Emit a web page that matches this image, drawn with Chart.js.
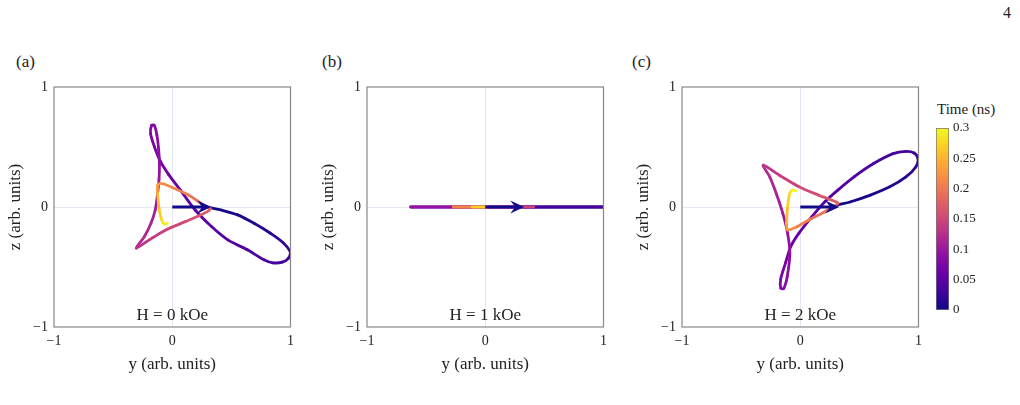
<!DOCTYPE html>
<html>
<head>
<meta charset="utf-8">
<script src="https://cdn.jsdelivr.net/npm/chart.js@4/dist/chart.umd.min.js"></script>
<style>
  body { margin: 0; background: #fff; }
  #wrap { position: relative; width: 1020px; height: 405px; font-family: 'Liberation Serif', serif; color: #222; }
  canvas { position: absolute; }
  .lbl { position: absolute; font-size: 17px; line-height: 1; }
</style>
</head>
<body>
<div id="wrap">
  <div class="lbl" style="left:16px;top:53px">(a)</div>
  <div class="lbl" style="left:322px;top:53px">(b)</div>
  <div class="lbl" style="left:632px;top:53px">(c)</div>
  <div class="lbl" style="left:1003px;top:5px;font-size:16px">4</div>
  <div class="lbl" style="left:937px;top:102px;font-size:15px">Time (ns)</div>
  <canvas id="panelA" width="300" height="320" style="left:0px;top:70px"></canvas>
  <canvas id="panelB" width="300" height="320" style="left:313px;top:70px"></canvas>
  <canvas id="panelC" width="300" height="320" style="left:628px;top:70px"></canvas>
  <canvas id="cbar" width="95" height="230" style="left:925px;top:95px"></canvas>
</div>
<script>
// ===== Data =====
const axisTicks = [-1, 0, 1];
const timeTicks = [0, 0.05, 0.1, 0.15, 0.2, 0.25, 0.3];
const timeTickLabels = ['0', '0.05', '0.1', '0.15', '0.2', '0.25', '0.3'];
const timeMax = 0.3;
const fieldLabels = ['H = 0 kOe', 'H = 1 kOe', 'H = 2 kOe'];

// the arrow marking the initial direction
const arrowY = [0, 0.33];
const arrowZ = [0, 0];

// (a) H = 0 kOe
const aY = [0.318, 0.415, 0.553, 0.692, 0.83, 0.94, 1.0, 0.98, 0.93, 0.85, 0.775, 0.636, 0.47, 0.332, 0.194, 0.069,
  -0.03, -0.1, -0.15, -0.183, -0.175, -0.152, -0.13, -0.115, -0.108, -0.112, -0.124, -0.144, -0.18, -0.235, -0.304,
  -0.194, -0.055, 0.111, 0.221, 0.31, 0.32, 0.263, 0.138, 0.0, -0.097, -0.124, -0.124, -0.11, -0.089, -0.069, -0.041];
const aZ = [-0.006, -0.025, -0.066, -0.136, -0.219, -0.30, -0.38, -0.43, -0.46, -0.465, -0.44, -0.357, -0.274, -0.163, -0.025, 0.141,
  0.27, 0.38, 0.50, 0.61, 0.68, 0.68, 0.60, 0.48, 0.35, 0.23, 0.113, -0.025, -0.136, -0.246, -0.343,
  -0.274, -0.191, -0.122, -0.075, -0.03, -0.01, 0.017, 0.10, 0.163, 0.196, 0.18, 0.113, -0.025, -0.108, -0.141, -0.136];
const aT = [0.000, 0.004, 0.008, 0.012, 0.016, 0.020, 0.024, 0.027, 0.030, 0.033, 0.036, 0.040, 0.044, 0.048, 0.053, 0.058,
  0.063, 0.068, 0.072, 0.076, 0.079, 0.082, 0.085, 0.089, 0.094, 0.099, 0.103, 0.107, 0.112, 0.118, 0.125,
  0.135, 0.145, 0.155, 0.163, 0.172, 0.178, 0.186, 0.198, 0.210, 0.222, 0.232, 0.245, 0.262, 0.278, 0.290, 0.300];

// (b) H = 1 kOe
const bY = [0.32, 1.0, 0.41, -0.63, 0.41, -0.27, -0.11, 0.02];
const bZ = [0, 0, 0, 0, 0, 0, 0, 0];
const bT = [0.0, 0.025, 0.045, 0.08, 0.11, 0.18, 0.24, 0.30];

// (c) H = 2 kOe
const cY = [0.318, 0.428, 0.593, 0.757, 0.894, 0.977, 0.996, 0.963, 0.894, 0.785, 0.62, 0.455, 0.318, 0.208, 0.099, -0.011,
  -0.08, -0.125, -0.165, -0.165, -0.14, -0.11, -0.088, -0.107, -0.148, -0.203, -0.258, -0.313,
  -0.176, -0.011, 0.154, 0.263, 0.318, 0.208, 0.071, -0.038, -0.107, -0.115, -0.107, -0.088, -0.066, -0.038];
const cZ = [0.017, 0.044, 0.099, 0.168, 0.251, 0.334, 0.403, 0.45, 0.464, 0.445, 0.362, 0.251, 0.141, 0.044, -0.08, -0.218,
  -0.329, -0.467, -0.60, -0.675, -0.68, -0.58, -0.384, -0.218, -0.052, 0.113, 0.251, 0.348,
  0.265, 0.169, 0.099, 0.058, 0.03, -0.039, -0.108, -0.169, -0.19, -0.135, 0.003, 0.113, 0.141, 0.135];
const cT = [0.000, 0.004, 0.008, 0.012, 0.016, 0.020, 0.024, 0.027, 0.030, 0.033, 0.037, 0.041, 0.045, 0.049, 0.054, 0.059,
  0.064, 0.070, 0.075, 0.079, 0.082, 0.086, 0.091, 0.097, 0.104, 0.111, 0.118, 0.125,
  0.138, 0.150, 0.160, 0.168, 0.175, 0.188, 0.200, 0.212, 0.225, 0.245, 0.262, 0.280, 0.292, 0.300];

// ===== Plasma colormap =====
const plasmaStops = ['#0d0887', '#41049d', '#6a00a8', '#8f0da4', '#b12a90', '#cc4778',
  '#e16462', '#f2844b', '#fca636', '#fcce25', '#f0f921'];

function hexToRgb(h) {
  return [parseInt(h.slice(1, 3), 16), parseInt(h.slice(3, 5), 16), parseInt(h.slice(5, 7), 16)];
}

function plasma(f) {
  f = Math.max(0, Math.min(1, f));
  const pos = f * (plasmaStops.length - 1);
  const i = Math.min(Math.floor(pos), plasmaStops.length - 2);
  const k = pos - i;
  const a = hexToRgb(plasmaStops[i]), b = hexToRgb(plasmaStops[i + 1]);
  const c = a.map((v, j) => Math.round(v + (b[j] - v) * k));
  return `rgb(${c[0]},${c[1]},${c[2]})`;
}

Chart.defaults.font.family = "'Liberation Serif', serif";
Chart.defaults.color = '#222';

const minusFmt = v => (v < 0 ? '\u2212' + Math.abs(v) : String(v));

// arrow, frame and field label drawn on each panel
const panelDecor = {
  id: 'panelDecor',
  afterDatasetsDraw(chart) {
    const { ctx, scales: { x, y } } = chart;
    const x0 = x.getPixelForValue(arrowY[0]), y0 = y.getPixelForValue(arrowZ[0]);
    const x1 = x.getPixelForValue(arrowY[1]), y1 = y.getPixelForValue(arrowZ[1]);
    ctx.save();
    ctx.strokeStyle = '#120a8a';
    ctx.fillStyle = '#120a8a';
    ctx.lineWidth = 3;
    ctx.beginPath();
    ctx.moveTo(x0, y0);
    ctx.lineTo(x1 - 8, y1);
    ctx.stroke();
    ctx.beginPath();
    ctx.moveTo(x1, y1);
    ctx.lineTo(x1 - 14, y1 - 6.5);
    ctx.lineTo(x1 - 9, y1);
    ctx.lineTo(x1 - 14, y1 + 6.5);
    ctx.closePath();
    ctx.fill();
    ctx.restore();
  },
  afterDraw(chart, args, opts) {
    const { ctx, chartArea: a } = chart;
    ctx.save();
    ctx.strokeStyle = '#888';
    ctx.lineWidth = 1.2;
    ctx.strokeRect(a.left, a.top, a.right - a.left, a.bottom - a.top);
    ctx.fillStyle = '#222';
    ctx.font = "17px 'Liberation Serif'";
    ctx.textAlign = 'center';
    ctx.textBaseline = 'middle';
    ctx.fillText(opts.text, (a.left + a.right) / 2, a.bottom - 11);
    ctx.restore();
  }
};

function makePanel(id, ys, zs, ts, label, rightPad, tension) {
  const pts = ys.map((v, i) => ({ x: v, y: zs[i] }));
  const gridColor = c => (c.tick && c.tick.value === 0 ? '#e3e8f3' : 'rgba(0,0,0,0)');
  new Chart(document.getElementById(id), {
    type: 'scatter',
    data: {
      datasets: [{
        data: pts,
        showLine: true,
        pointRadius: 0,
        borderWidth: 2.8,
        tension: tension,
        borderCapStyle: 'round',
        borderJoinStyle: 'round',
        segment: {
          borderColor: c => plasma((ts[c.p0DataIndex] + ts[c.p1DataIndex]) / 2 / timeMax)
        }
      }]
    },
    options: {
      responsive: false,
      animation: false,
      layout: { padding: { top: 17, right: rightPad, left: 0, bottom: 0 } },
      plugins: { legend: { display: false }, tooltip: { enabled: false }, panelDecor: { text: label } },
      scales: {
        x: {
          type: 'linear', min: -1, max: 1,
          afterBuildTicks: s => { s.ticks = axisTicks.map(v => ({ value: v })); },
          afterFit: s => { s.height = 63; },
          ticks: { callback: minusFmt, padding: 6, maxRotation: 0, font: { size: 14 } },
          grid: { color: gridColor, drawTicks: false },
          border: { display: false },
          title: { display: true, text: 'y (arb. units)', font: { size: 17 }, padding: { top: 0, bottom: 15 } }
        },
        y: {
          type: 'linear', min: -1, max: 1,
          afterBuildTicks: s => { s.ticks = axisTicks.map(v => ({ value: v })); },
          afterFit: s => { s.width = 54; },
          ticks: { callback: minusFmt, padding: 6, font: { size: 14 } },
          grid: { color: gridColor, drawTicks: false },
          border: { display: false },
          title: { display: true, text: 'z (arb. units)', font: { size: 17 }, padding: { top: 5, bottom: 0 } }
        }
      }
    },
    plugins: [panelDecor]
  });
}

document.addEventListener('DOMContentLoaded', () => {
  makePanel('panelA', aY, aZ, aT, fieldLabels[0], 4, 0.3);
  makePanel('panelB', bY, bZ, bT, fieldLabels[1], 2, 0);
  makePanel('panelC', cY, cZ, cT, fieldLabels[2], 3, 0.3);

  // ===== Colour bar =====
  new Chart(document.getElementById('cbar'), {
    type: 'bar',
    data: {
      labels: [''],
      datasets: [{
        data: [timeMax],
        barPercentage: 1,
        categoryPercentage: 1,
        borderWidth: 1,
        borderColor: '#777',
        borderSkipped: false,
        backgroundColor: c => {
          const area = c.chart.chartArea;
          if (!area) return '#888';
          const g = c.chart.ctx.createLinearGradient(0, area.bottom, 0, area.top);
          plasmaStops.forEach((s, i) => g.addColorStop(i / (plasmaStops.length - 1), s));
          return g;
        }
      }]
    },
    options: {
      responsive: false,
      animation: false,
      layout: { padding: { top: 33, left: 11, bottom: 15, right: 0 } },
      plugins: { legend: { display: false }, tooltip: { enabled: false } },
      scales: {
        x: { display: false },
        y: {
          position: 'right', min: 0, max: timeMax,
          afterBuildTicks: s => { s.ticks = timeTicks.map(v => ({ value: v })); },
          afterFit: s => { s.width = 71; },
          ticks: { callback: (v, i) => timeTickLabels[i], padding: 4, font: { size: 13 } },
          grid: { display: false, drawTicks: false },
          border: { display: false }
        }
      }
    }
  });
});
</script>
</body>
</html>
